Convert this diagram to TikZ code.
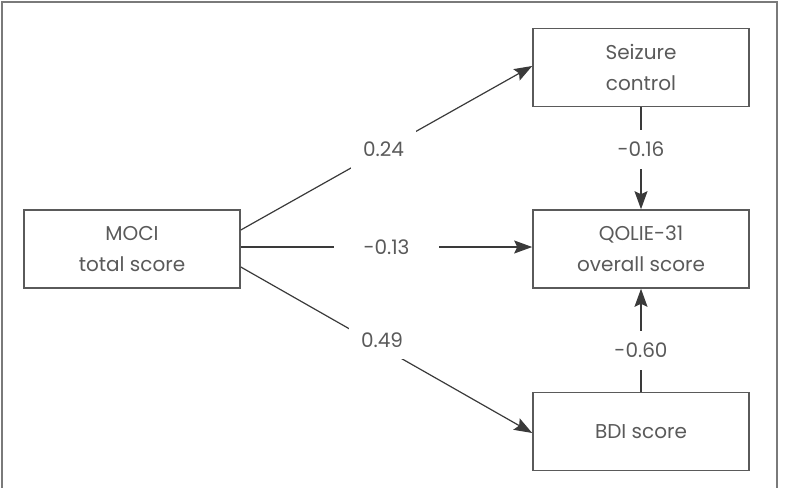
\documentclass[tikz,border=0pt]{standalone}
\usepackage{fontspec}
\setmainfont{Poppins}
\usetikzlibrary{positioning,arrows.meta}
\definecolor{ink}{HTML}{3a3a3a}
\definecolor{ink2}{HTML}{5a5a5a}
\definecolor{frm}{HTML}{7a7a7a}
\tikzset{
  blk/.style={draw=ink2,line width=0.8pt,fill=white,align=center,text=ink2,
    font=\fontsize{10}{15.5}\selectfont,minimum width=108pt,minimum height=39pt,inner sep=0pt},
  arr/.style={-{Stealth[length=9pt,width=6.5pt,inset=1.5pt]},line width=0.6pt,draw=ink},
  wlab/.style={fill=white,text=ink2,font=\fontsize{10}{12}\selectfont,inner sep=6pt},
}

\begin{document}
\begin{tikzpicture}[x=0.5pt,y=-0.5pt]
\useasboundingbox (0,0) rectangle (789,488);
\draw[frm,line width=1pt] (2,492) -- (2,2) -- (777,2) -- (777,492);
\node[blk] (moci) at (132,249) {MOCI\\total score};
\node[blk] (seiz) at (641,67.5) {Seizure\\control};
\node[blk] (qolie) at (641,249) {QOLIE-31\\overall score};
\node[blk] (bdi) at (641,431.5) {BDI score};
\draw[arr] ([yshift=9.5pt]moci.east) -- node[wlab,pos=.49]{0.24} ([yshift=0.75pt]seiz.west);
\draw[arr] ([yshift=1pt]moci.east) -- node[wlab,inner xsep=15pt]{-0.13} ([yshift=1pt]qolie.west);
\draw[arr] ([yshift=-9pt]moci.east) -- node[wlab,pos=.44,xshift=6.5pt]{0.49} ([yshift=-0.75pt]bdi.west);
\draw[arr] (seiz) -- node[wlab,pos=.41]{-0.16} (qolie);
\draw[arr] (bdi) -- node[wlab,pos=.4]{-0.60} (qolie);
\end{tikzpicture}
\end{document}
